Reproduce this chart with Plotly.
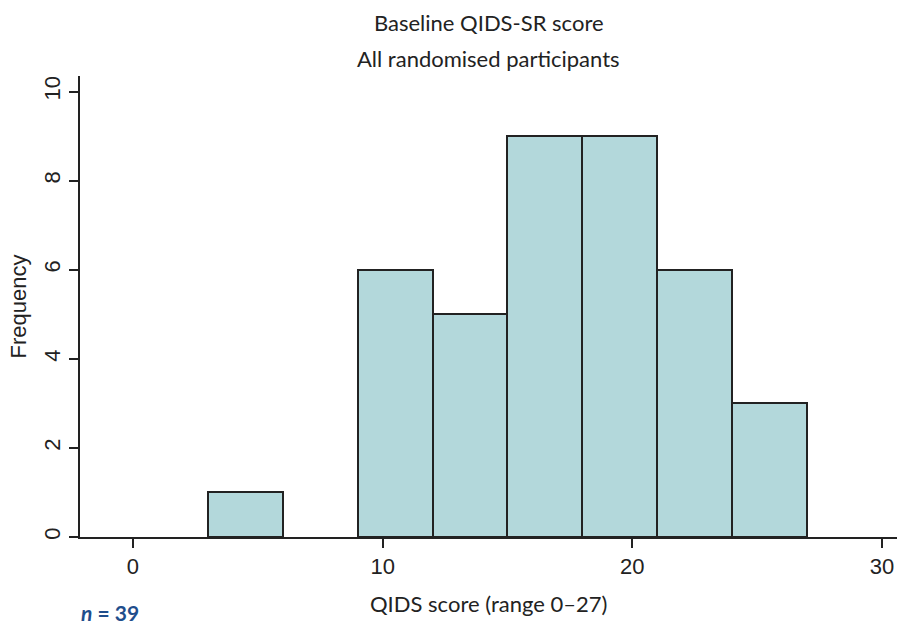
import plotly.graph_objects as go

# Histogram of baseline QIDS-SR scores (bin width 3)
bin_starts = [3, 9, 12, 15, 18, 21, 24]
counts = [1, 6, 5, 9, 9, 6, 3]
bin_width = 3
x_ticks = [0, 10, 20, 30]
y_ticks = [0, 2, 4, 6, 8, 10]
n_total = sum(counts)

centers = [s + bin_width / 2 for s in bin_starts]

fig = go.Figure(
    go.Bar(
        x=centers,
        y=counts,
        width=[bin_width] * len(centers),
        marker=dict(color="#b3d8db", line=dict(color="#222222", width=2)),
        hoverinfo="x+y",
    )
)

axis_col = "#222222"
arial = "Liberation Sans, Arial, sans-serif"
lato = "Lato, sans-serif"
tick_font = dict(family=arial, size=22, color="#222222")

# pixel geometry of the plotting area
M_L, M_R, M_T, M_B = 80, 1, 76, 87
W, H = 898, 624
plot_w = W - M_L - M_R
plot_h = H - M_T - M_B


def px_y(y_px):
    """Convert a page y-pixel to paper coordinates."""
    return (H - M_B - y_px) / plot_h


def px_x(x_px):
    """Convert a page x-pixel to paper coordinates."""
    return (x_px - M_L) / plot_w


fig.update_layout(
    width=W,
    height=H,
    paper_bgcolor="white",
    plot_bgcolor="white",
    margin=dict(l=M_L, r=M_R, t=M_T, b=M_B),
    showlegend=False,
    bargap=0,
    xaxis=dict(
        range=[-2.12, 30.6],
        tickvals=x_ticks,
        ticks="outside",
        ticklen=9,
        tickwidth=1.5,
        tickcolor=axis_col,
        showline=True,
        linecolor=axis_col,
        linewidth=1.5,
        showgrid=False,
        zeroline=False,
        tickfont=tick_font,
    ),
    yaxis=dict(
        range=[0, 10.35],
        tickvals=y_ticks,
        ticks="outside",
        ticklen=9,
        tickwidth=1.5,
        tickcolor=axis_col,
        tickangle=-90,
        showline=True,
        linecolor=axis_col,
        linewidth=1.5,
        showgrid=False,
        zeroline=False,
        tickfont=tick_font,
    ),
    annotations=[
        dict(text="Baseline QIDS-SR score", x=0.5, y=px_y(22), xref="paper", yref="paper",
             showarrow=False, yanchor="middle", font=dict(family=lato, size=22, color="#222222")),
        dict(text="All randomised participants", x=0.5, y=px_y(58), xref="paper", yref="paper",
             showarrow=False, yanchor="middle", font=dict(family=lato, size=22, color="#222222")),
        dict(text="QIDS score (range 0–27)", x=0.5, y=px_y(603), xref="paper", yref="paper",
             showarrow=False, yanchor="middle", font=dict(family=lato, size=22, color="#222222")),
        dict(text="Frequency", x=px_x(18), y=0.5, xref="paper", yref="paper", textangle=-90,
             showarrow=False, xanchor="center", yanchor="middle", font=dict(family=arial, size=22, color="#222222")),
        dict(text=f"<b><i>n</i> = {n_total}</b>", x=px_x(79), y=px_y(612), xref="paper", yref="paper",
             showarrow=False, xanchor="left", yanchor="middle", font=dict(family=lato, size=21, color="#1f4e8c")),
    ],
)

fig.write_html("out.html")
